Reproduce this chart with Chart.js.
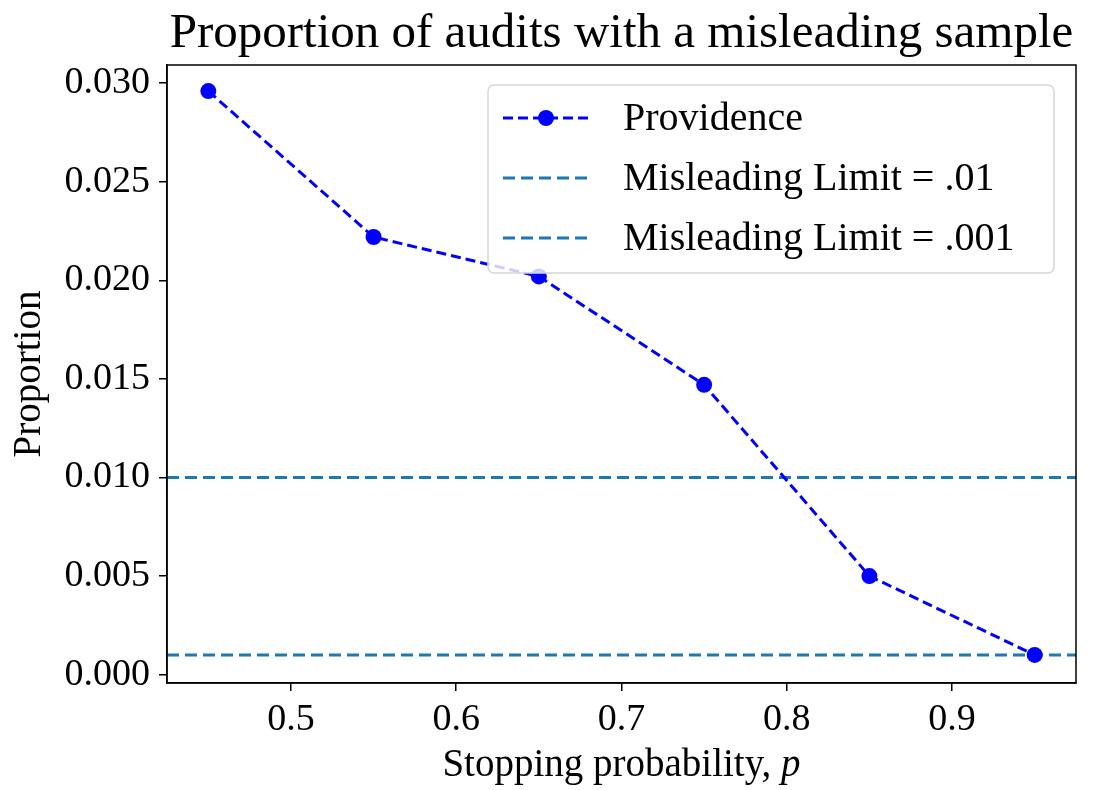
<!DOCTYPE html>
<html>
<head>
<meta charset="utf-8">
<script src="https://cdn.jsdelivr.net/npm/chart.js@4.4.1/dist/chart.umd.min.js"></script>
<style>
  html, body { margin: 0; padding: 0; background: #fff; }
  #wrap { width: 1099px; height: 790px; }
</style>
</head>
<body>
<div id="wrap"><canvas id="lineChart" width="1099" height="790"></canvas></div>
<script>
// data
var stopProbs = [0.45, 0.55, 0.65, 0.75, 0.85, 0.95]
var providence = [0.0296, 0.0222, 0.0202, 0.0147, 0.0050, 0.0010]
var limitValues = [0.01, 0.001]
var limitLabels = ['Misleading Limit = .01', 'Misleading Limit = .001']
var xTicks = [0.5, 0.6, 0.7, 0.8, 0.9]
var yTicks = [0, 0.005, 0.010, 0.015, 0.020, 0.025, 0.030]
var chartTitle = 'Proportion of audits with a misleading sample'

var xMin = 0.425, xMax = 0.975
var yMin = -0.000425, yMax = 0.030925

var serif = '"Liberation Serif", "DejaVu Serif", serif'
var blue = '#0000ff'
var tab = '#1f77b4'

var datasets = [{
  label: 'Providence',
  data: stopProbs.map(function (x, i) { return { x: x, y: providence[i] } }),
  borderColor: blue,
  backgroundColor: blue,
  borderWidth: 3,
  borderDash: [10, 5],
  pointRadius: 8,
  pointHoverRadius: 8,
  pointBorderWidth: 0,
  tension: 0,
}]
limitValues.forEach(function (v, i) {
  datasets.push({
    label: limitLabels[i],
    data: [{ x: xMin, y: v }, { x: xMax, y: v }],
    borderColor: tab,
    borderWidth: 3,
    borderDash: [12, 6],
    pointRadius: 0,
    tension: 0,
  })
})

// matplotlib-ish frame, title over the axes, x label with italic p, legend inside
var frameAndLegend = {
  id: 'frameAndLegend',
  afterDraw: function (chart) {
    var ctx = chart.ctx
    var a = chart.chartArea
    var cx = (a.left + a.right) / 2
    ctx.save()
    ctx.strokeStyle = '#000'
    ctx.lineWidth = 1.5
    ctx.setLineDash([])
    ctx.strokeRect(a.left, a.top, a.right - a.left, a.bottom - a.top)

    ctx.fillStyle = '#000'
    ctx.textBaseline = 'middle'

    // title
    ctx.textAlign = 'center'
    ctx.font = '49px ' + serif
    ctx.fillText(chartTitle, cx, 34)

    // x axis label
    ctx.textAlign = 'left'
    var part1 = 'Stopping probability, '
    ctx.font = '39px ' + serif
    var w1 = ctx.measureText(part1).width
    ctx.font = 'italic 39px ' + serif
    var w2 = ctx.measureText('p').width
    var sx = cx - (w1 + w2) / 2
    ctx.font = '39px ' + serif
    ctx.fillText(part1, sx, 766)
    ctx.font = 'italic 39px ' + serif
    ctx.fillText('p', sx + w1, 766)

    // legend box
    var bx = 488, by = 85, bw = 566, bh = 188
    ctx.fillStyle = 'rgba(255,255,255,0.8)'
    ctx.strokeStyle = '#d6d6d6'
    ctx.lineWidth = 1.5
    ctx.beginPath()
    ctx.roundRect(bx, by, bw, bh, 6)
    ctx.fill()
    ctx.stroke()

    var rows = [118, 178, 238]
    ctx.font = '40px ' + serif
    chart.data.datasets.forEach(function (ds, i) {
      var y = rows[i]
      ctx.strokeStyle = ds.borderColor
      ctx.lineWidth = ds.borderWidth
      ctx.setLineDash(ds.borderDash)
      ctx.beginPath()
      ctx.moveTo(503, y)
      ctx.lineTo(590, y)
      ctx.stroke()
      ctx.setLineDash([])
      if (ds.pointRadius > 0) {
        ctx.fillStyle = ds.backgroundColor
        ctx.beginPath()
        ctx.arc(546, y, ds.pointRadius, 0, Math.PI * 2)
        ctx.fill()
      }
      ctx.fillStyle = '#000'
      ctx.fillText(ds.label, 623, y + 1)
    })
    ctx.restore()
  }
}

var lineChart = new Chart(document.getElementById('lineChart').getContext('2d'), {
  type: 'line',
  data: { datasets: datasets },
  options: {
    responsive: false,
    animation: false,
    layout: { padding: { left: 0, right: 23, top: 65, bottom: 0 } },
    plugins: {
      legend: { display: false },
      tooltip: { enabled: false },
      title: { display: false },
    },
    scales: {
      x: {
        type: 'linear',
        min: xMin,
        max: xMax,
        afterBuildTicks: function (scale) {
          scale.ticks = xTicks.map(function (v) { return { value: v } })
        },
        afterFit: function (scale) { scale.height = 107 },
        ticks: {
          color: '#000',
          font: { family: serif, size: 38 },
          padding: 6,
          maxRotation: 0,
          callback: function (v) { return v.toFixed(1) },
        },
        grid: { drawOnChartArea: false, drawTicks: true, tickLength: 8, color: '#000', lineWidth: 1.5 },
        border: { color: '#000', width: 1.5 },
      },
      y: {
        type: 'linear',
        min: yMin,
        max: yMax,
        afterBuildTicks: function (scale) {
          scale.ticks = yTicks.map(function (v) { return { value: v } })
        },
        afterFit: function (scale) { scale.width = 167 },
        ticks: {
          color: '#000',
          font: { family: serif, size: 38 },
          padding: 9,
          callback: function (v) { return v.toFixed(3) },
        },
        grid: { drawOnChartArea: false, drawTicks: true, tickLength: 8, color: '#000', lineWidth: 1.5 },
        border: { color: '#000', width: 1.5 },
        title: {
          display: true,
          text: 'Proportion',
          color: '#000',
          font: { family: serif, size: 39 },
          padding: { top: 6, bottom: 0 },
        },
      },
    },
  },
  plugins: [frameAndLegend],
})
</script>
</body>
</html>
